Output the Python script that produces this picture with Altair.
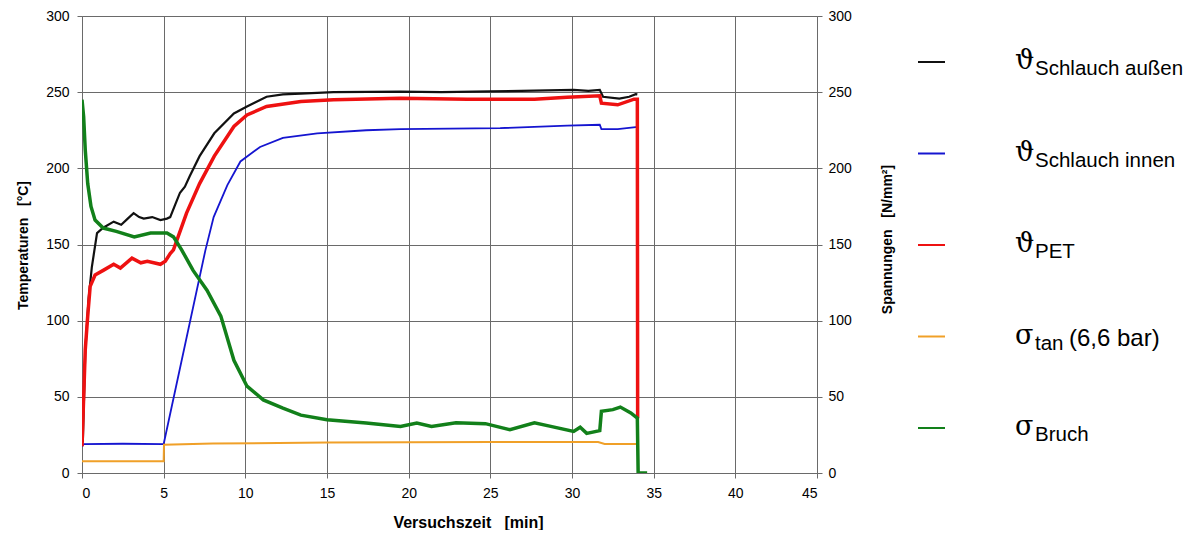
import altair as alt
import pandas as pd

# ---------------- data ----------------
t_aussen = [0.05, 0.2, 0.4, 0.6, 0.92, 1.3, 1.94, 2.4, 2.8, 3.16, 3.5, 3.78, 4.3, 4.8, 5.2, 5.4, 5.7, 6.0, 6.3, 6.6, 7.2, 8.1, 9.3, 10.1, 11.3, 12.3, 13.4, 15.4, 17.5, 19.5, 22.0, 25.0, 27.7, 30.1, 31.0, 31.7, 31.9, 32.9, 33.5, 33.9, 34.0]
v_aussen = [20, 80, 114, 135, 157.5, 161, 165, 163, 167, 170.6, 168, 167, 168, 166, 167, 168, 176, 184, 188, 195, 208, 223, 236, 240.6, 247, 248.5, 249, 250, 250.2, 250.4, 250, 250.5, 251, 251.5, 250.8, 251.5, 247, 245.8, 247, 248.7, 248.5]

t_innen = [0.0, 0.1, 2.5, 5.0, 7.55, 8.06, 8.9, 9.7, 10.9, 12.3, 14.4, 17.4, 19.5, 25.6, 29.7, 31.7, 31.8, 32.8, 33.9, 34.0]
v_innen = [17.5, 19, 19.2, 19, 146, 168, 189, 204.5, 214, 220, 223, 225, 225.7, 226.4, 228, 228.6, 225.7, 225.7, 227, 227]

t_pet = [0.0, 0.2, 0.35, 0.5, 0.8, 1.3, 1.94, 2.35, 3.06, 3.6, 4.0, 4.8, 5.1, 5.4, 5.6, 6.4, 7.2, 8.1, 9.3, 10.1, 11.3, 13.4, 15.4, 19.5, 23.6, 27.7, 29.7, 31.7, 31.8, 32.8, 33.8, 34.0, 34.02]
v_pet = [17.5, 81, 103, 122.5, 130, 133, 137, 134.5, 141, 138, 139, 137, 139, 144, 146.5, 170.6, 190, 208, 227.5, 235, 240.6, 243.9, 245, 246, 245.4, 245.4, 246.7, 247.6, 242.8, 241.7, 245.4, 245.4, 36]

t_tan = [0.0, 5.0, 5.02, 8.0, 15.0, 25.0, 31.6, 32.0, 34.0]
v_tan = [7.7, 7.7, 18.6, 19.3, 20.0, 20.3, 20.3, 19.0, 19.0]

t_bruch = [0.0, 0.1, 0.2, 0.35, 0.55, 0.8, 1.3, 2.1, 3.2, 4.2, 5.2, 5.6, 6.1, 6.8, 7.65, 8.5, 9.3, 10.1, 11.1, 12.3, 13.4, 15.0, 17.4, 19.5, 20.5, 21.4, 22.9, 24.7, 26.2, 27.7, 28.7, 30.1, 30.5, 30.9, 31.7, 31.8, 32.5, 32.96, 33.6, 34.0, 34.05, 34.6]
v_bruch = [245, 234, 212, 190, 175, 166, 160.8, 158.6, 155, 157.5, 157.5, 155, 146.5, 133, 120, 103, 74, 57, 48, 42.6, 38, 35, 32.8, 30.6, 32.8, 30.6, 33, 32.4, 28.4, 33, 30.6, 27.3, 30, 26, 27.8, 40.5, 41.6, 43.3, 39.4, 36, 0, 0]

x_ticks = [0, 5, 10, 15, 20, 25, 30, 35, 40, 45]
y_ticks = [0, 50, 100, 150, 200, 250, 300]

temp_names = ["aussen", "innen", "pet"]
temp_colors = ["#111111", "#1515d0", "#ee1111"]
temp_widths = [2.2, 1.8, 3.5]
stress_names = ["tan", "bruch"]
stress_colors = ["#f0a028", "#12801a"]
stress_widths = [2.0, 3.5]

# legend texts
leg_symbol = ["\u03d1", "\u03d1", "\u03d1", "\u03c3", "\u03c3"]
leg_sub = ["Schlauch au\u00dfen", "Schlauch innen", "PET", "tan", "Bruch"]
leg_suffix = ["", "", "", "(6,6 bar)", ""]
leg_colors = ["#111111", "#1515d0", "#ee1111", "#f0a028", "#12801a"]

# ---------------- build tables ----------------
def frame(name, ts, vs):
    return pd.DataFrame({"series": name, "t": ts, "v": vs, "o": range(len(ts))})

temp_df = pd.concat([frame("aussen", t_aussen, v_aussen),
                     frame("innen", t_innen, v_innen),
                     frame("pet", t_pet, v_pet)])
stress_df = pd.concat([frame("tan", t_tan, v_tan),
                       frame("bruch", t_bruch, v_bruch)])

W, H = 735, 457
font = "Liberation Sans"
GRID = "#6a6a6a"

xscale = alt.Scale(domain=[0, 45], nice=False)
yscale = alt.Scale(domain=[0, 300], nice=False)

x_axis = alt.Axis(values=x_ticks, title="Versuchszeit\u00a0\u00a0\u00a0[min]", titleX=386, titleY=49,
                  titleBaseline="middle", titleAlign="center", titleFontSize=16, titleFontWeight="bold",
                  labelPadding=8, labelFontSize=14, grid=True, gridColor=GRID, gridOpacity=1,
                  domainColor=GRID, tickColor=GRID)
left_axis = alt.Axis(values=y_ticks, orient="left", title="Temperaturen\u00a0\u00a0\u00a0[\u00b0C]",
                     titleX=-59, titleY=229, titleAngle=-90, titleAlign="center",
                     titleBaseline="middle", titleFontSize=14, titleFontWeight="bold",
                     labelPadding=8, labelFontSize=14, grid=True, gridColor=GRID, gridOpacity=1,
                     domainColor=GRID, tickColor=GRID)
right_axis = alt.Axis(values=y_ticks, orient="right", title="Spannungen\u00a0\u00a0\u00a0[N/mm\u00b2]",
                      titleX=70, titleY=223, titleAngle=-90, titleAlign="center",
                      titleBaseline="middle", titleFontSize=14, titleFontWeight="bold",
                      labelPadding=6, labelFontSize=14, grid=False, domainColor=GRID, tickColor=GRID)


def temp_layer(name, color, width):
    return alt.Chart(temp_df[temp_df.series == name]).mark_line(color=color, strokeWidth=width, clip=True).encode(
        x=alt.X("t:Q", scale=xscale, axis=x_axis),
        y=alt.Y("v:Q", scale=yscale, axis=left_axis),
        order="o:Q",
    )


def stress_layer(name, color, width):
    return alt.Chart(stress_df[stress_df.series == name]).mark_line(color=color, strokeWidth=width, clip=True).encode(
        x=alt.X("t:Q", scale=xscale, axis=x_axis),
        y=alt.Y("v:Q", scale=yscale, axis=right_axis),
        order="o:Q",
    )


temps = alt.layer(*[temp_layer(n, c, w) for n, c, w in zip(temp_names, temp_colors, temp_widths)])
stresses = alt.layer(*[stress_layer(n, c, w) for n, c, w in zip(stress_names, stress_colors, stress_widths)])

# ---------------- custom legend (with subscripts) ----------------
leg_df = pd.DataFrame({"sym": leg_symbol, "sub": leg_sub, "suf": leg_suffix, "color": leg_colors})
row_y = [46, 137.5, 229, 320.5, 412]  # legend row positions (layout, px from plot top)
leg_layers = []
for i in range(len(leg_symbol)):
    y = row_y[i]
    d = leg_df.iloc[[i]]
    leg_layers.append(alt.Chart(d).mark_rule(color=leg_colors[i], strokeWidth=2).encode(
        x=alt.value(836), x2=alt.value(863), y=alt.value(y)))
    leg_layers.append(alt.Chart(d).mark_text(align="left", baseline="alphabetic", font="DejaVu Serif",
                                             fontSize=27, color="#000000").encode(
        x=alt.value(933), y=alt.value(y + 7), text="sym:N"))
    leg_layers.append(alt.Chart(d).mark_text(align="left", baseline="alphabetic", font=font,
                                             fontSize=20.5, color="#000000").encode(
        x=alt.value(953), y=alt.value(y + 13), text="sub:N"))
    if leg_suffix[i]:
        leg_layers.append(alt.Chart(d).mark_text(align="left", baseline="alphabetic", font=font,
                                                 fontSize=24, color="#000000").encode(
            x=alt.value(987), y=alt.value(y + 9), text="suf:N"))

chart = alt.layer(temps, stresses, *leg_layers).resolve_scale(y="independent").properties(
    width=W, height=H,
    autosize=alt.AutoSizeParams(type="none"),
    padding={"left": 74, "top": 8, "right": 375, "bottom": 57},
).configure_view(stroke=None).configure_axis(
    labelFont=font, titleFont=font, labelColor="#222222", titleColor="#111111",
    gridColor=GRID, gridWidth=1, gridOpacity=1,
    domainColor=GRID, tickColor=GRID, tickSize=5,
).configure(background="white")

chart.save("out.html", embed_options={"renderer": "svg", "actions": False})
